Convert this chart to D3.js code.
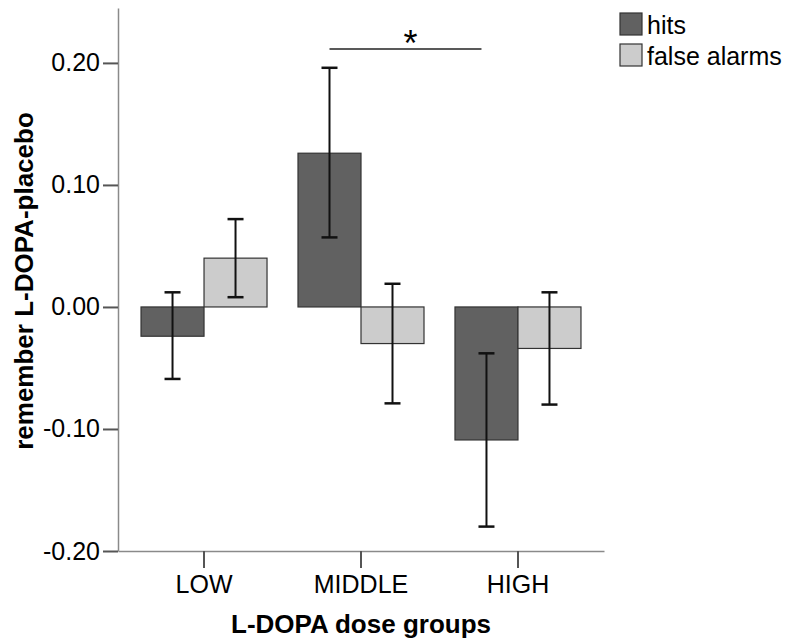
<!DOCTYPE html>
<html>
<head>
<meta charset="utf-8">
<script src="https://cdn.jsdelivr.net/npm/d3@7"></script>
<style>
  body { margin: 0; background: #fff; }
  svg text { font-family: Arial, "Liberation Sans", sans-serif; }
</style>
</head>
<body>
<div id="chart"></div>
<script>
// data
const groups = ['LOW', 'MIDDLE', 'HIGH'];
const series = ['hits', 'false alarms'];
const hits = [-0.024, 0.126, -0.109];
const hitsLo = [-0.059, 0.057, -0.180];
const hitsHi = [0.012, 0.196, -0.038];
const falseAlarms = [0.040, -0.030, -0.034];
const faLo = [0.008, -0.079, -0.080];
const faHi = [0.072, 0.019, 0.012];
const yTicks = [-0.20, -0.10, 0.00, 0.10, 0.20];
const sigLevel = 0.2115;

const colors = { 'hits': '#616161', 'false alarms': '#cccccc' };

const WIDTH = 787, HEIGHT = 643;
const AXIS = { LEFT: 118, RIGHT: 604, TOP: 8, BOTTOM: 551 };
const BAR_W = 63;

const svg = d3.select('#chart').append('svg')
  .attr('width', WIDTH)
  .attr('height', HEIGHT);

// scales
const y = d3.scaleLinear()
  .domain([-0.20, 0.245])
  .range([AXIS.BOTTOM, AXIS.TOP]);

const x = d3.scaleBand()
  .domain(groups)
  .range([AXIS.LEFT, AXIS.RIGHT])
  .paddingInner(0)
  .paddingOuter(0.048);

const xSub = d3.scaleBand()
  .domain(series)
  .range([-BAR_W, BAR_W]);

const rows = [];
groups.forEach((g, i) => {
  rows.push({ group: g, key: 'hits', value: hits[i], lo: hitsLo[i], hi: hitsHi[i] });
  rows.push({ group: g, key: 'false alarms', value: falseAlarms[i], lo: faLo[i], hi: faHi[i] });
});
const cx = d => x(d.group) + x.bandwidth() / 2;

// axes (plain hyphen for minus, like the original)
const fmt = v => d3.format('.2f')(v).replace('\u2212', '-');

const yAxis = svg.append('g')
  .attr('transform', `translate(${AXIS.LEFT},0)`)
  .call(d3.axisLeft(y).tickValues(yTicks).tickFormat(fmt)
    .tickSize(15).tickSizeOuter(0).tickPadding(3));
yAxis.selectAll('text').attr('font-size', 25).attr('fill', '#000').attr('font-family', null);
yAxis.selectAll('line').attr('stroke', '#555').attr('stroke-width', 2);
yAxis.select('.domain').attr('stroke', '#8a8a8a').attr('stroke-width', 1.5);

const xAxis = svg.append('g')
  .attr('transform', `translate(0,${AXIS.BOTTOM})`)
  .call(d3.axisBottom(x).tickSize(17).tickSizeOuter(0).tickPadding(7));
xAxis.selectAll('text').attr('font-size', 25).attr('fill', '#000').attr('font-family', null);
xAxis.selectAll('line').attr('stroke', '#555').attr('stroke-width', 2);
xAxis.select('.domain').attr('stroke', '#8a8a8a').attr('stroke-width', 1.5);

// bars
svg.append('g').selectAll('rect')
  .data(rows)
  .join('rect')
  .attr('x', d => cx(d) + xSub(d.key))
  .attr('y', d => y(Math.max(0, d.value)))
  .attr('width', xSub.bandwidth())
  .attr('height', d => Math.abs(y(d.value) - y(0)))
  .attr('fill', d => colors[d.key])
  .attr('stroke', '#333')
  .attr('stroke-width', 1.2);

// error bars
const err = svg.append('g').attr('stroke', '#111').attr('stroke-width', 2);
rows.forEach(d => {
  const ex = cx(d) + xSub(d.key) + xSub.bandwidth() / 2;
  err.append('line').attr('x1', ex).attr('x2', ex).attr('y1', y(d.lo)).attr('y2', y(d.hi));
  err.append('line').attr('x1', ex - 8).attr('x2', ex + 8).attr('y1', y(d.lo)).attr('y2', y(d.lo)).attr('stroke-width', 2.5);
  err.append('line').attr('x1', ex - 8).attr('x2', ex + 8).attr('y1', y(d.hi)).attr('y2', y(d.hi)).attr('stroke-width', 2.5);
});

// significance bracket MIDDLE hits vs HIGH hits
const sx1 = x('MIDDLE') + x.bandwidth() / 2 + xSub('hits') + xSub.bandwidth() / 2;
const sx2 = x('HIGH') + x.bandwidth() / 2 + xSub('hits') + xSub.bandwidth() / 2 - 5;
svg.append('line')
  .attr('x1', sx1).attr('x2', sx2)
  .attr('y1', y(sigLevel)).attr('y2', y(sigLevel))
  .attr('stroke', '#222').attr('stroke-width', 1.5);
svg.append('text')
  .attr('x', (sx1 + sx2) / 2 + 5)
  .attr('y', y(sigLevel) + 7)
  .attr('text-anchor', 'middle')
  .attr('font-size', 36)
  .text('*');

// axis titles
svg.append('text')
  .attr('x', (AXIS.LEFT + AXIS.RIGHT) / 2)
  .attr('y', 633)
  .attr('text-anchor', 'middle')
  .attr('font-size', 26)
  .attr('font-weight', 'bold')
  .text('L-DOPA dose groups');

svg.append('text')
  .attr('transform', 'rotate(-90)')
  .attr('x', -281)
  .attr('y', 33)
  .attr('text-anchor', 'middle')
  .attr('font-size', 26)
  .attr('font-weight', 'bold')
  .text('remember L-DOPA-placebo');

// legend
const legend = svg.append('g').attr('transform', 'translate(620,13)');
series.forEach((s, i) => {
  legend.append('rect')
    .attr('x', 0).attr('y', i * 31)
    .attr('width', 22).attr('height', 22)
    .attr('fill', colors[s])
    .attr('stroke', '#333').attr('stroke-width', 1.2);
  legend.append('text')
    .attr('x', 27).attr('y', i * 31 + 21)
    .attr('font-size', 25)
    .text(s);
});
</script>
</body>
</html>
